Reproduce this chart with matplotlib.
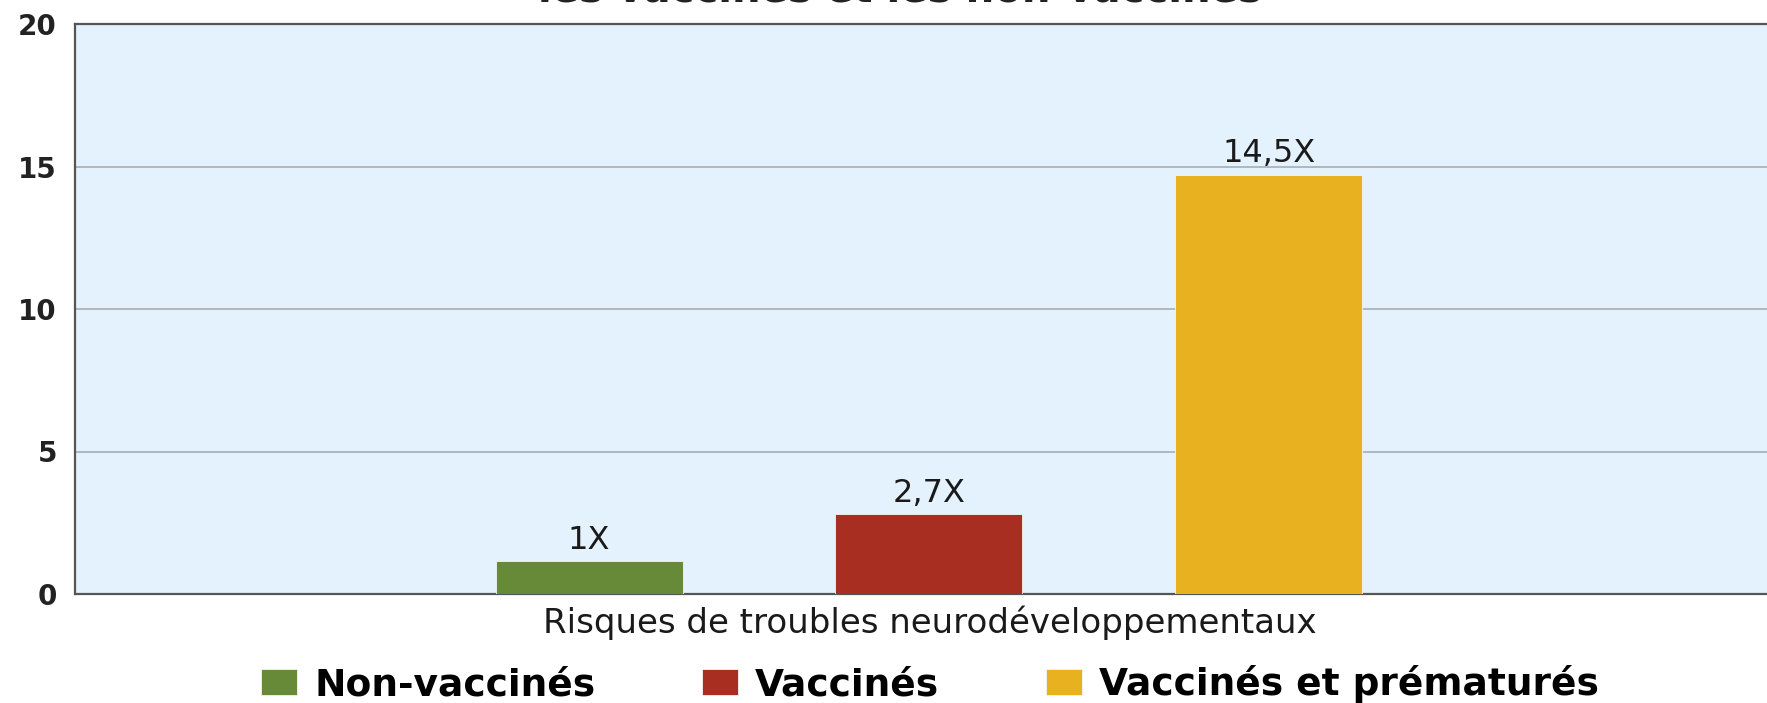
"""Bar chart: risques de troubles neurodéveloppementaux, vaccinés vs non-vaccinés."""

import matplotlib as mpl
import matplotlib.pyplot as plt
from matplotlib.patches import Patch

GROUPS = ["Non-vaccinés", "Vaccinés", "Vaccinés et prématurés"]
HEIGHTS = [1.15, 2.8, 14.7]
VALUE_LABELS = ["1X", "2,7X", "14,5X"]
COLORS = ["#678a38", "#a82e22", "#e7b11f"]
YTICKS = [0, 5, 10, 15, 20]
XLABEL = "Risques de troubles neurodéveloppementaux"
TITLE = "les vaccinés et les non-vaccinés"


def main() -> None:
    mpl.rcParams.update({"font.family": ["DejaVu Sans"]})

    fig = plt.figure(figsize=(17.67, 7.03), dpi=100)
    ax = fig.add_axes([75 / 1767, 1 - 594 / 703, 1 - 75 / 1767, (594 - 24) / 703])
    ax.set_facecolor("#e3f2fc")

    xs = list(range(len(GROUPS)))
    ax.bar(xs, HEIGHTS, width=0.55, color=COLORS, edgecolor="#f4f4f4",
           linewidth=0.6, zorder=3)
    for x, h, lab in zip(xs, HEIGHTS, VALUE_LABELS):
        ax.annotate(lab, (x, h), xytext=(0, 4), textcoords="offset points",
                    ha="center", va="bottom", fontsize=23, color="#1a1a1a")

    ax.set_xlim(-1.512, 3.465)
    ax.set_ylim(0, 20)
    ax.set_yticks(YTICKS)
    ax.set_xticks([])
    ax.tick_params(axis="y", length=0, pad=13, labelsize=20, labelcolor="#222222")
    for t in ax.get_yticklabels():
        t.set_fontweight("bold")
    ax.yaxis.grid(True, color="#a9adb0", linewidth=1.2, zorder=1)
    ax.set_axisbelow(True)

    for side in ("left", "top", "bottom"):
        ax.spines[side].set_color("#555555")
        ax.spines[side].set_linewidth(1.6)
    ax.spines["right"].set_visible(False)

    ax.set_xlabel(XLABEL, fontsize=24.5, color="#1a1a1a")
    ax.xaxis.label.set_va("top")
    ax.xaxis.set_label_coords((930 - 75) / (1767 - 75), -12 / 570)

    # the title's first line is cropped away in the source; only the tail shows
    fig.text(900 / 1767, 1 - 1 / 703, TITLE, ha="center", va="baseline",
             fontsize=29, fontweight="bold", color="#222222")

    handles = [Patch(facecolor=c, edgecolor="#f4f4f4", linewidth=0.6) for c in COLORS]
    fig.legend(handles, GROUPS, loc="center", bbox_to_anchor=(930 / 1767, 0.027),
               ncol=3, frameon=False, prop={"size": 27, "weight": "bold"},
               handlelength=0.96, handleheight=0.67, handletextpad=0.45,
               columnspacing=2.85, borderpad=0, borderaxespad=0)

    fig.savefig("out.png", dpi=100)
    plt.close(fig)


if __name__ == "__main__":
    main()
